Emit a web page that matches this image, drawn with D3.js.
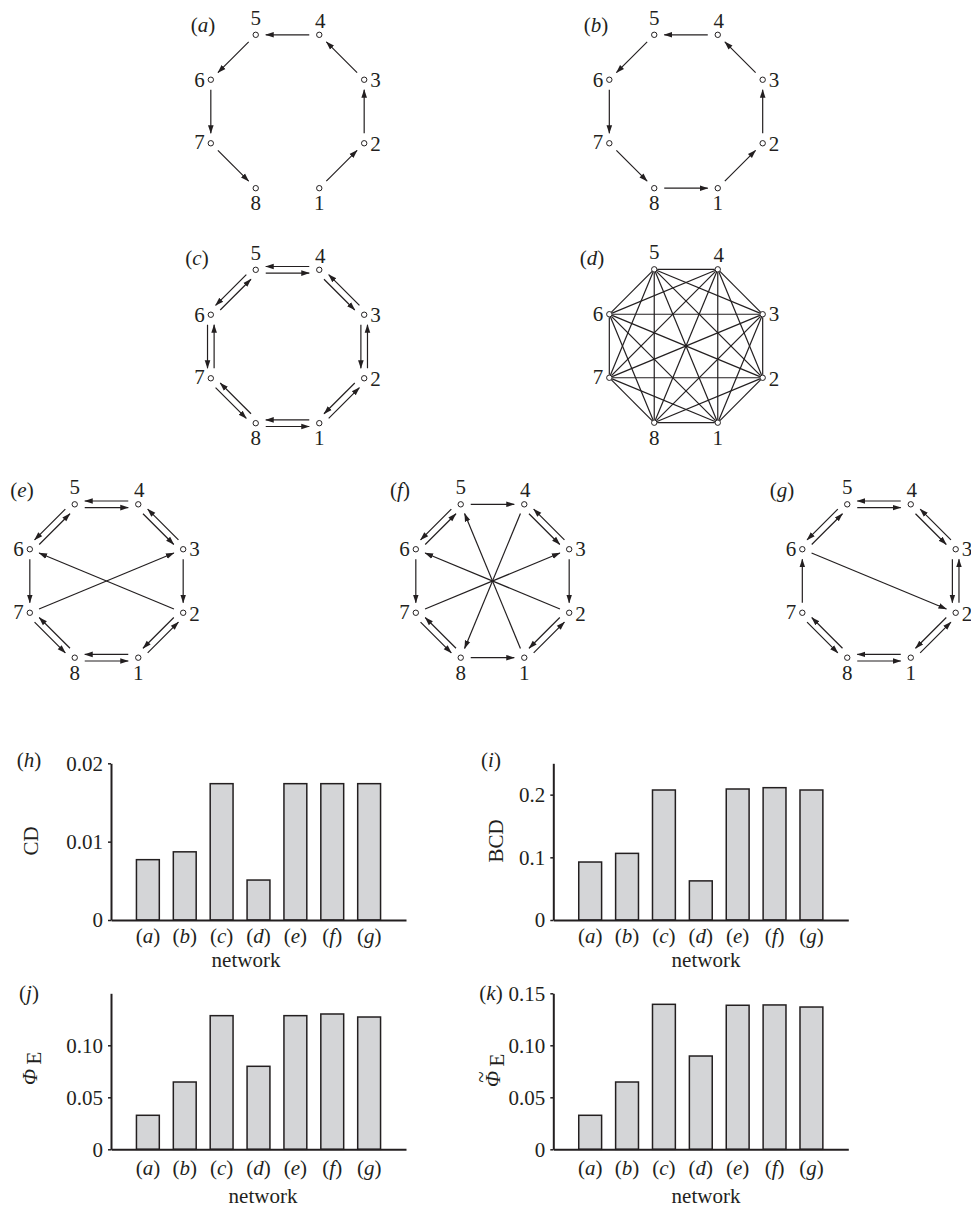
<!DOCTYPE html>
<html>
<head>
<meta charset="utf-8">
<script src="https://cdn.jsdelivr.net/npm/d3@7"></script>
<style>
  body { margin: 0; background: #fff; }
  text { font-family: "Liberation Serif", "Times New Roman", serif; font-size: 21px; fill: #231f20; }
</style>
</head>
<body>
<svg id="chart" width="971" height="1207"></svg>
<script>
// ---- data ----
const networks = ['a', 'b', 'c', 'd', 'e', 'f', 'g'];
const cdValues = [0.0077, 0.0087, 0.0174, 0.0051, 0.0174, 0.0174, 0.0174];
const bcdValues = [0.0925, 0.1063, 0.2074, 0.0624, 0.2090, 0.2111, 0.2074];
const phiValues = [0.0327, 0.0647, 0.1285, 0.0798, 0.1285, 0.1301, 0.1272];
const phiTildeValues = [0.0327, 0.0647, 0.1394, 0.0897, 0.1385, 0.1388, 0.1368];

const cdTicks = [0, 0.01, 0.02];
const cdTickLabels = ['0', '0.01', '0.02'];
const bcdTicks = [0, 0.1, 0.2];
const bcdTickLabels = ['0', '0.1', '0.2'];
const phiTicks = [0, 0.05, 0.10];
const phiTickLabels = ['0', '0.05', '0.10'];
const phiTildeTicks = [0, 0.05, 0.10, 0.15];
const phiTildeTickLabels = ['0', '0.05', '0.10', '0.15'];

const nodeIds = [1, 2, 3, 4, 5, 6, 7, 8];
const edgesA = [[1, 2], [2, 3], [3, 4], [4, 5], [5, 6], [6, 7], [7, 8]];
const edgesB = [[1, 2], [2, 3], [3, 4], [4, 5], [5, 6], [6, 7], [7, 8], [8, 1]];
const edgesC = [[1, 2], [2, 1], [2, 3], [3, 2], [3, 4], [4, 3], [4, 5], [5, 4],
                [5, 6], [6, 5], [6, 7], [7, 6], [7, 8], [8, 7], [8, 1], [1, 8]];
const edgesD = d3.merge(nodeIds.map(i => nodeIds.filter(j => j > i).map(j => [i, j])));
const edgesE = [[5, 4], [4, 5], [5, 6], [6, 5], [4, 3], [3, 4], [3, 2], [6, 7],
                [7, 3], [2, 6], [7, 8], [8, 7], [2, 1], [1, 2], [8, 1], [1, 8]];
const edgesF = [[5, 4], [5, 6], [6, 5], [4, 3], [3, 4], [3, 2], [6, 7], [7, 3],
                [2, 6], [1, 5], [4, 8], [7, 8], [8, 7], [2, 1], [1, 2], [8, 1]];
const edgesG = [[5, 4], [4, 5], [5, 6], [6, 5], [4, 3], [3, 4], [3, 2], [2, 3],
                [6, 2], [7, 6], [7, 8], [8, 7], [2, 1], [1, 2], [8, 1], [1, 8]];

// ---- layout ----
const svg = d3.select('#chart');
svg.append('rect').attr('width', 971).attr('height', 1207).attr('fill', '#fff');

const ink = '#231f20';

svg.append('defs').append('marker')
  .attr('id', 'arrow')
  .attr('viewBox', '0 -4 9 8')
  .attr('refX', 8)
  .attr('refY', 0)
  .attr('markerWidth', 9)
  .attr('markerHeight', 8)
  .attr('markerUnits', 'userSpaceOnUse')
  .attr('orient', 'auto')
  .append('path')
  .attr('d', 'M0,-2.8L8.5,0L0,2.8Z')
  .attr('fill', ink);

const radius = 83;
const netPanels = [
  {key: 'a', cx: 287.5, cy: 111.5, edges: edgesA, lx: 203, ly: 32},
  {key: 'b', cx: 686, cy: 111.5, edges: edgesB, lx: 596, ly: 32},
  {key: 'c', cx: 287.5, cy: 346.5, edges: edgesC, lx: 197, ly: 265},
  {key: 'd', cx: 686, cy: 346, edges: edgesD, lx: 592, ly: 265, undirected: true},
  {key: 'e', cx: 106.5, cy: 581, edges: edgesE, lx: 22, ly: 497},
  {key: 'f', cx: 492.5, cy: 581, edges: edgesF, lx: 400, ly: 497},
  {key: 'g', cx: 879, cy: 581, edges: edgesG, lx: 782, ly: 497}
];

// label placement around the octagon (node index -> anchor, dx, dy)
const labelPos = {
  1: ['middle', 0, 22], 2: ['start', 6, 8], 3: ['start', 6, 7], 4: ['middle', 1, -7],
  5: ['middle', 0, -10], 6: ['end', -6, 7], 7: ['end', -6, 6], 8: ['middle', 0, 22]
};

function panelLabel(g, letter, x, y, anchor) {
  const t = g.append('text').attr('x', x).attr('y', y).attr('text-anchor', anchor || 'middle');
  t.append('tspan').text('(');
  t.append('tspan').attr('font-style', 'italic').text(letter);
  t.append('tspan').text(')');
  return t;
}

netPanels.forEach(p => {
  const g = svg.append('g');
  const pos = {};
  nodeIds.forEach(k => {
    const a = (-67.5 + (k - 1) * 45) * Math.PI / 180;
    pos[k] = [p.cx + radius * Math.cos(a), p.cy - radius * Math.sin(a)];
  });
  const has = new Set(p.edges.map(e => e[0] + '-' + e[1]));

  const segs = p.edges.map(([i, j]) => {
    const [x1, y1] = pos[i], [x2, y2] = pos[j];
    const len = Math.hypot(x2 - x1, y2 - y1);
    const ux = (x2 - x1) / len, uy = (y2 - y1) / len;
    if (p.undirected) {
      return {x1: x1 + ux * 3, y1: y1 + uy * 3, x2: x2 - ux * 3, y2: y2 - uy * 3};
    }
    const off = has.has(j + '-' + i) ? 3.3 : 0;
    const ox = -uy * off, oy = ux * off;
    return {x1: x1 + ux * 10 + ox, y1: y1 + uy * 10 + oy,
            x2: x2 - ux * 10 + ox, y2: y2 - uy * 10 + oy};
  });

  g.selectAll('line.edge').data(segs).enter().append('line')
    .attr('class', 'edge')
    .attr('x1', d => d.x1).attr('y1', d => d.y1)
    .attr('x2', d => d.x2).attr('y2', d => d.y2)
    .attr('stroke', ink).attr('stroke-width', 1.2)
    .attr('marker-end', p.undirected ? null : 'url(#arrow)');

  g.selectAll('circle').data(nodeIds).enter().append('circle')
    .attr('cx', d => pos[d][0]).attr('cy', d => pos[d][1])
    .attr('r', 2.7).attr('fill', '#fff').attr('stroke', ink).attr('stroke-width', 1);

  g.selectAll('text.node').data(nodeIds).enter().append('text')
    .attr('class', 'node')
    .attr('x', d => pos[d][0] + labelPos[d][1])
    .attr('y', d => pos[d][1] + labelPos[d][2])
    .attr('text-anchor', d => labelPos[d][0])
    .text(d => d);

  panelLabel(g, p.key, p.lx, p.ly);
});

// ---- bar charts ----
const barPanels = [
  {key: 'h', values: cdValues, ymax: 0.02, ticks: cdTicks, tickLabels: cdTickLabels,
   x0: 111, yBase: 920, yTop: 763.3, tickY: 943, netX: 246, netY: 967,
   lab: 'CD', labX: 38, labY: 841, plx: 29, ply: 767},
  {key: 'i', values: bcdValues, ymax: 0.25, ticks: bcdTicks, tickLabels: bcdTickLabels,
   x0: 553.3, yBase: 920, yTop: 763.3, tickY: 943, netX: 706, netY: 967,
   lab: 'BCD', labX: 503, labY: 841, plx: 491, ply: 767},
  {key: 'j', values: phiValues, ymax: 0.15, ticks: phiTicks, tickLabels: phiTickLabels,
   x0: 111, yBase: 1149.3, yTop: 993.3, tickY: 1175, netX: 263, netY: 1203,
   lab: 'phi', labX: 37, labY: 1070, plx: 29, ply: 1000},
  {key: 'k', values: phiTildeValues, ymax: 0.15, ticks: phiTildeTicks, tickLabels: phiTildeTickLabels,
   x0: 553.3, yBase: 1149.3, yTop: 993.3, tickY: 1175, netX: 706, netY: 1203,
   lab: 'phitilde', labX: 500, labY: 1072, plx: 491, ply: 1000}
];

barPanels.forEach(p => {
  const g = svg.append('g');
  const x = d3.scaleLinear().domain([0, 8]).range([p.x0, p.x0 + 295]);
  const y = d3.scaleLinear().domain([0, p.ymax]).range([p.yBase, p.yTop]);
  const bw = 0.62;

  g.selectAll('rect').data(p.values).enter().append('rect')
    .attr('x', (d, i) => x(i + 1 - bw / 2))
    .attr('width', x(bw) - x(0))
    .attr('y', d => y(d))
    .attr('height', d => p.yBase - y(d))
    .attr('fill', '#d4d5d7')
    .attr('stroke', ink)
    .attr('stroke-width', 1.5);

  const yAxis = g.append('g')
    .attr('transform', `translate(${p.x0},0)`)
    .call(d3.axisLeft(y).tickValues(p.ticks).tickFormat((d, i) => p.tickLabels[i])
      .tickSize(3).tickSizeOuter(0).tickPadding(5));
  yAxis.select('.domain').attr('stroke', ink).attr('stroke-width', 2);
  yAxis.selectAll('.tick line').attr('stroke', ink).attr('stroke-width', 1.5);
  yAxis.selectAll('.tick text').attr('font-size', 21)
    .attr('font-family', '"Liberation Serif", serif').attr('fill', ink);

  const xAxis = g.append('g')
    .attr('transform', `translate(0,${p.yBase})`)
    .call(d3.axisBottom(x).tickValues([]).tickSizeOuter(0));
  xAxis.select('.domain').attr('stroke', ink).attr('stroke-width', 2);

  networks.forEach((n, i) => panelLabel(g, n, x(i + 1), p.tickY));

  g.append('text').attr('x', p.netX).attr('y', p.netY)
    .attr('text-anchor', 'middle').text('network');

  const yl = g.append('g')
    .attr('transform', `translate(${p.labX},${p.labY}) rotate(-90)`);
  if (p.lab === 'phi' || p.lab === 'phitilde') {
    yl.append('text').attr('x', -7).attr('y', 0).attr('text-anchor', 'middle')
      .attr('font-style', 'italic').attr('font-size', 23).text('\u03A6');
    yl.append('text').attr('x', 12).attr('y', 4).attr('text-anchor', 'middle')
      .attr('font-size', 15).text('E');
    if (p.lab === 'phitilde') {
      yl.append('text').attr('x', -5).attr('y', -12).attr('text-anchor', 'middle')
        .attr('font-size', 20).text('~');
    }
  } else {
    yl.append('text').attr('text-anchor', 'middle').text(p.lab);
  }

  panelLabel(g, p.key, p.plx, p.ply);
});
</script>
</body>
</html>
